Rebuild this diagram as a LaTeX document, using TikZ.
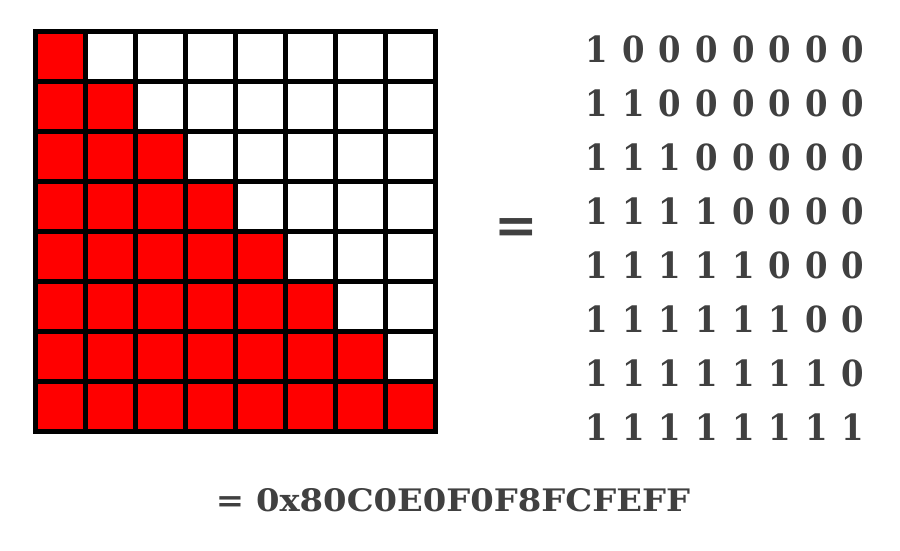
\documentclass[tikz,border=0pt]{standalone}
\usepackage{fontspec}
\setmainfont{DejaVu Serif}
\definecolor{txtgray}{HTML}{404040}
\definecolor{cellred}{HTML}{FF0000}
\tikzset{
  gridline/.style={line width=5pt, draw=black},
  digit/.style={font=\bfseries\fontsize{36}{36}\selectfont, text=txtgray, inner sep=0pt, anchor=center, xscale=0.9},
  hexlabel/.style={font=\bfseries\fontsize{31}{31}\selectfont, text=txtgray, inner sep=0pt, anchor=center, xscale=1.09},
  eqsign/.style={font=\bfseries\fontsize{52}{52}\selectfont, text=txtgray, inner sep=0pt, anchor=center}
}
\begin{document}
\begin{tikzpicture}[x=1pt,y=-1pt]
\useasboundingbox (0,0) rectangle (900,550);
% red cells (lower triangle including diagonal)
\foreach \r in {0,...,7}{
  \foreach \c in {0,...,\r}{
    \fill[cellred] (35.5+50*\c,31.5+50*\r) rectangle ++(50,50);
  }
}
% grid
\foreach \k in {0,...,8}{
  \draw[gridline] (35.5+50*\k,29) -- (35.5+50*\k,434);
  \draw[gridline] (33,31.5+50*\k) -- (438,31.5+50*\k);
}
% equals sign
\node[eqsign] (eq) at (516,231) {=};
% binary digits
\foreach \r in {0,...,7}{
  \foreach \c in {0,...,7}{
    \node[digit] (d\r\c) at (597+36.6*\c,49+54*\r) {\ifnum\c>\r\relax 0\else 1\fi};
  }
}
% hex label
\node[hexlabel] (hex) at (453,500) {= 0x80C0E0F0F8FCFEFF};
\end{tikzpicture}
\end{document}
